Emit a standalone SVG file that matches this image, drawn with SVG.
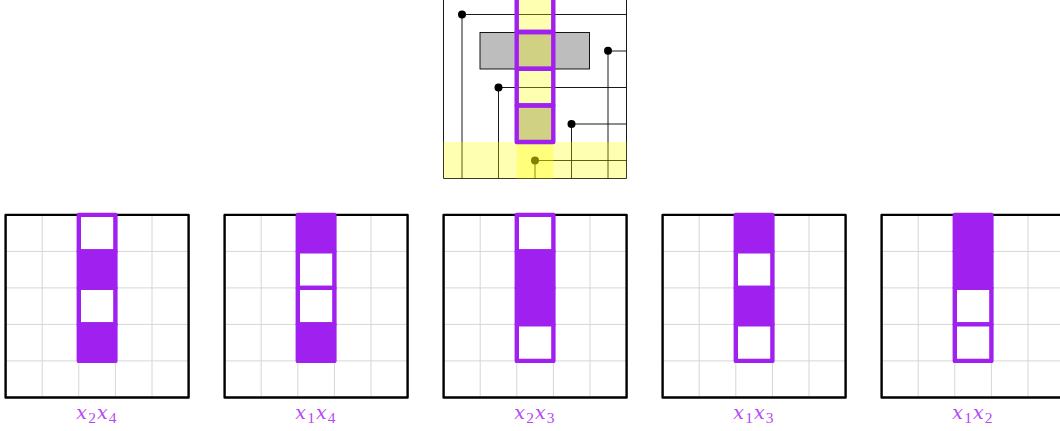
<svg xmlns="http://www.w3.org/2000/svg" xmlns:xlink="http://www.w3.org/1999/xlink" width="1060" height="431" viewBox="0 0 1060 431">
<style>
.grid{stroke:#d6d6d6;stroke-width:1;fill:none}
.frame{stroke:#000;stroke-width:2.4;fill:none;stroke-linejoin:round}
.on{fill:#a020f0;stroke:#a020f0;stroke-width:4.4;stroke-linejoin:round}
.off{fill:#fff;stroke:#a020f0;stroke-width:4.4;stroke-linejoin:round}
.wire{stroke:#000;stroke-width:.9;fill:none}
.dot{fill:#000}
.lab{font-family:"DejaVu Serif",serif;font-style:italic;font-size:19px;letter-spacing:1.1px;fill:#b648f2;text-anchor:middle}
.sub{font-family:"Liberation Serif",serif;font-style:normal;font-size:15.5px}
</style>
<defs>
<g id="grid">
<path class="grid" d="M36.6 0V182.6M73.2 0V182.6M109.8 0V182.6M146.4 0V182.6M0 36.5H183M0 73H183M0 109.5H183M0 146H183"/>
<rect class="frame" width="183" height="182.6"/>
</g>
</defs>
<g id="connectors">
<rect x="480" y="32.5" width="109.5" height="36.5" fill="#bdbdbd" stroke="#000" stroke-width=".9"/>
<rect x="516.7" y="105.4" width="36.6" height="36.6" fill="#bdbdbd"/>
<path class="wire" d="M443.5 0V178.5H626.5V0"/>
<path class="wire" d="M462 178.5V14.5H626.5M608 178.5V51H626.5M498.5 178.5V87.5H626.5M571.5 178.5V124H626.5M535 178.5V160.5H626.5"/>
</g>
<g id="top-register">
<circle class="dot" cx="462" cy="14.5" r="4"/>
<circle class="dot" cx="608" cy="50.7" r="4"/>
<circle class="dot" cx="498.5" cy="87.5" r="4"/>
<circle class="dot" cx="571.5" cy="124" r="4"/>
<circle class="dot" cx="535" cy="160.5" r="4"/>
<rect x="516.7" y="-5" width="36.6" height="183.5" fill="#ff0" fill-opacity=".3"/>
<rect x="443.5" y="142" width="183" height="36.5" fill="#ff0" fill-opacity=".3"/>
<g fill="none" stroke="#a020f0" stroke-width="4.4" stroke-linejoin="round">
<rect x="516.7" y="-4.6" width="36.6" height="36.6"/>
<rect x="516.7" y="32" width="36.6" height="36.6"/>
<rect x="516.7" y="68.9" width="36.6" height="36.6"/>
<rect x="516.7" y="105.4" width="36.6" height="36.6"/>
</g>
</g>
<g id="panel-x2x4" transform="translate(5.6 214.9)">
<use xlink:href="#grid" href="#grid"/>
<rect class="off" x="73.2" width="36.6" height="36.5"/>
<rect class="on" x="73.2" y="36.5" width="36.6" height="36.5"/>
<rect class="off" x="73.2" y="73" width="36.6" height="36.5"/>
<rect class="on" x="73.2" y="109.5" width="36.6" height="36.5"/>
</g>
<text class="lab" x="97" y="419">x<tspan class="sub" dy="3.5">2</tspan><tspan dy="-3.5">x</tspan><tspan class="sub" dy="3.5">4</tspan></text>
<g id="panel-x1x4" transform="translate(224.6 214.9)">
<use xlink:href="#grid" href="#grid"/>
<rect class="on" x="73.2" width="36.6" height="36.5"/>
<rect class="off" x="73.2" y="36.5" width="36.6" height="36.5"/>
<rect class="off" x="73.2" y="73" width="36.6" height="36.5"/>
<rect class="on" x="73.2" y="109.5" width="36.6" height="36.5"/>
</g>
<text class="lab" x="316" y="419">x<tspan class="sub" dy="3.5">1</tspan><tspan dy="-3.5">x</tspan><tspan class="sub" dy="3.5">4</tspan></text>
<g id="panel-x2x3" transform="translate(443.6 214.9)">
<use xlink:href="#grid" href="#grid"/>
<rect class="off" x="73.2" width="36.6" height="36.5"/>
<rect class="on" x="73.2" y="36.5" width="36.6" height="36.5"/>
<rect class="on" x="73.2" y="73" width="36.6" height="36.5"/>
<rect class="off" x="73.2" y="109.5" width="36.6" height="36.5"/>
</g>
<text class="lab" x="535" y="419">x<tspan class="sub" dy="3.5">2</tspan><tspan dy="-3.5">x</tspan><tspan class="sub" dy="3.5">3</tspan></text>
<g id="panel-x1x3" transform="translate(662.6 214.9)">
<use xlink:href="#grid" href="#grid"/>
<rect class="on" x="73.2" width="36.6" height="36.5"/>
<rect class="off" x="73.2" y="36.5" width="36.6" height="36.5"/>
<rect class="on" x="73.2" y="73" width="36.6" height="36.5"/>
<rect class="off" x="73.2" y="109.5" width="36.6" height="36.5"/>
</g>
<text class="lab" x="754" y="419">x<tspan class="sub" dy="3.5">1</tspan><tspan dy="-3.5">x</tspan><tspan class="sub" dy="3.5">3</tspan></text>
<g id="panel-x1x2" transform="translate(881.6 214.9)">
<use xlink:href="#grid" href="#grid"/>
<rect class="on" x="73.2" width="36.6" height="36.5"/>
<rect class="on" x="73.2" y="36.5" width="36.6" height="36.5"/>
<rect class="off" x="73.2" y="73" width="36.6" height="36.5"/>
<rect class="off" x="73.2" y="109.5" width="36.6" height="36.5"/>
</g>
<text class="lab" x="973" y="419">x<tspan class="sub" dy="3.5">1</tspan><tspan dy="-3.5">x</tspan><tspan class="sub" dy="3.5">2</tspan></text>
</svg>
